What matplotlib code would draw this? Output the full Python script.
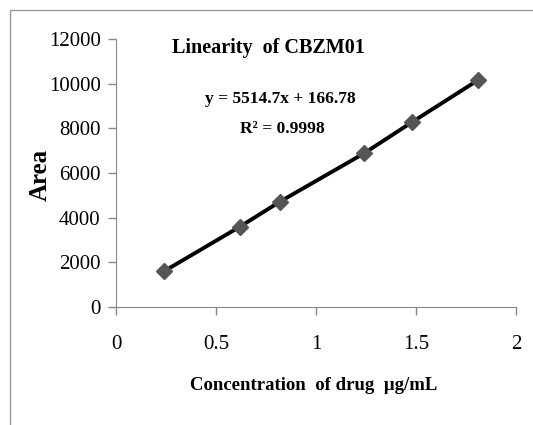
import matplotlib.pyplot as plt
from matplotlib.patches import Rectangle

conc = [0.24, 0.62, 0.82, 1.24, 1.48, 1.81]
area = [1600, 3600, 4720, 6880, 8280, 10160]
xticks = [0, 0.5, 1, 1.5, 2]
xticklabels = ['0', '0.5', '1', '1.5', '2']
yticks = [0, 2000, 4000, 6000, 8000, 10000, 12000]

plt.rcParams['font.family'] = ['Liberation Serif', 'DejaVu Serif']

fig = plt.figure(figsize=(5.33, 4.25), dpi=100)
ax = fig.add_axes([0.2176, 0.2776, 0.7504, 0.6304])

# outer frame of the chart area
fig.patches.append(Rectangle((10 / 533, -0.1), 1.2, 1.1 - 10 / 425,
                             transform=fig.transFigure, fill=False,
                             edgecolor='#9a9a9a', linewidth=1.0))

ax.plot(conc, area, color='black', linewidth=2.8, marker='D', markersize=8,
        markerfacecolor='#555555', markeredgecolor='#555555', zorder=3)

ax.set_xlim(0, 2)
ax.set_ylim(0, 12000)
ax.set_xticks(xticks)
ax.set_xticklabels(xticklabels)
ax.set_yticks(yticks)
ax.tick_params(axis='both', labelsize=15, color='#888888', length=6, width=1)
ax.tick_params(axis='x', pad=14)
ax.tick_params(axis='y', pad=5)
for s in ['top', 'right']:
    ax.spines[s].set_visible(False)
for s in ['left', 'bottom']:
    ax.spines[s].set_color('#888888')

ax.text(0.38, 0.965, 'Linearity  of CBZM01', transform=ax.transAxes,
        ha='center', va='center', fontsize=14.5, fontweight='bold')
ax.text(0.41, 0.775, 'y = 5514.7x + 166.78', transform=ax.transAxes,
        ha='center', va='center', fontsize=12.5, fontweight='bold')
ax.text(0.415, 0.665, 'R² = 0.9998', transform=ax.transAxes,
        ha='center', va='center', fontsize=12.5, fontweight='bold')

fig.text(40 / 533, 1 - 175 / 425, 'Area', rotation=90, ha='center',
         va='center', fontsize=18, fontweight='bold')
fig.text(314 / 533, 1 - 385 / 425, 'Concentration  of drug  µg/mL',
         ha='center', va='center', fontsize=13.5, fontweight='bold')

fig.savefig('out.png', dpi=100)
